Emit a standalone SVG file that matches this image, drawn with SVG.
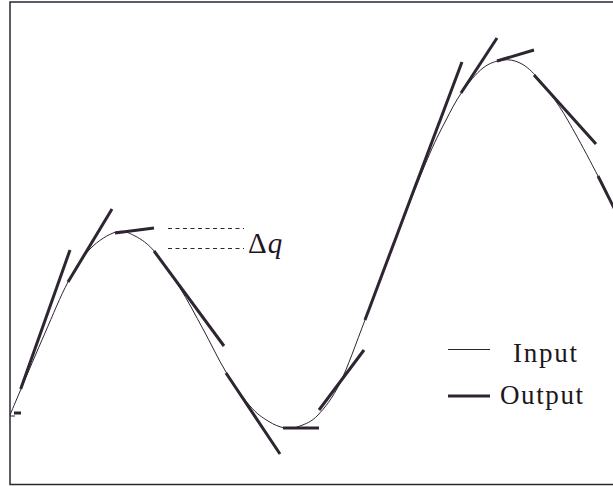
<svg xmlns="http://www.w3.org/2000/svg" width="613" height="487" viewBox="0 0 613 487">
<style>
.frame{fill:none;stroke:#2e2432;stroke-width:1.5}
.input{fill:none;stroke:#2e2432;stroke-width:1}
.output{fill:none;stroke:#2e2432;stroke-width:3}
.dash{fill:none;stroke:#2e2432;stroke-width:1;stroke-dasharray:4 3.5}
.lbl{font-family:"Liberation Serif","DejaVu Serif",serif;font-size:27px;fill:#1e161e}
.dq{font-family:"Liberation Serif","DejaVu Serif",serif;font-size:29px;fill:#1e161e}
</style>
<rect x="0" y="0" width="613" height="487" fill="#ffffff"/>
<g id="frame">
<path class="frame" d="M614 2 H10 V484.5 H614"/>
</g>
<g id="input-curve">
<path class="input" d="M10,415 C11.83,410.67 15.170,402.67 21,389 C26.83,375.33 37.17,350.83 45,333 C52.83,315.17 60.5,296 68,282 C75.5,268 82,257.33 90,249 C98,240.67 108.5,234.17 116,232 C123.5,229.83 128.5,232.67 135,236 C141.5,239.33 147.5,243.33 155,252 C162.5,260.67 172,275.17 180,288 C188,300.83 195.33,315 203,329 C210.67,343 218.17,359.17 226,372 C233.83,384.83 243,397.83 250,406 C257,414.17 262.17,417.33 268,421 C273.83,424.67 279.67,427.17 285,428 C290.33,428.83 294.5,428.17 300,426 C305.5,423.83 311.33,422.17 318,415 C324.67,407.83 332.17,398.83 340,383 C347.83,367.17 355.83,343.83 365,320 C374.17,296.17 384.67,266.67 395,240 C405.33,213.33 418.67,179.67 427,160 C435.33,140.33 439.17,133.33 445,122 C450.83,110.67 455.67,101 462,92 C468.33,83 476.17,73.33 483,68 C489.83,62.67 496.83,60.83 503,60 C509.17,59.17 514.5,60.33 520,63 C525.5,65.67 529.83,69.33 536,76 C542.17,82.67 550.5,93.5 557,103 C563.5,112.5 568.17,120.83 575,133 C581.83,145.17 591.67,163.83 598,176 C604.33,188.17 612,204 620,220"/>
<path class="input" d="M10,416 H15"/>
</g>
<g id="output-segments">
<path class="output" d="M14,413 H21"/>
<path class="output" d="M20.7,389 L70,250"/>
<path class="output" d="M68,282 L112,209"/>
<path class="output" d="M115,233 L154,228"/>
<path class="output" d="M154,251 L224,346"/>
<path class="output" d="M226,373 L280,454"/>
<path class="output" d="M283,428 L319,428"/>
<path class="output" d="M319,410 L364,350"/>
<path class="output" d="M365,320 L462,62"/>
<path class="output" d="M461,93 L497,38"/>
<path class="output" d="M497,61 L534,50"/>
<path class="output" d="M534,75 L596,144"/>
<path class="output" d="M598,176 L616,212"/>
</g>
<g id="delta-q">
<path class="dash" d="M168,228.5 H244"/>
<path class="dash" d="M168,248.5 H244"/>
<text class="dq" x="248" y="253">Δ<tspan font-style="italic" dx="1">q</tspan></text>
</g>
<g id="legend">
<path class="input" d="M448,349.5 H490"/>
<text class="lbl" x="513" y="362" textLength="64" lengthAdjust="spacing">Input</text>
<path class="output" d="M448,396 H490"/>
<text class="lbl" x="500" y="404" textLength="83" lengthAdjust="spacing">Output</text>
</g>
</svg>
